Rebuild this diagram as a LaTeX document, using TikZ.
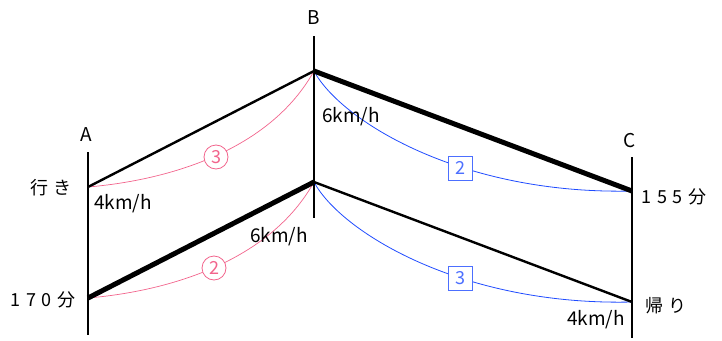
\documentclass[tikz,border=0pt]{standalone}
\usepackage{fontspec}
\setmainfont{Noto Sans CJK JP}
\newfontfamily\spacedfont[LetterSpace=30]{Noto Sans CJK JP}
\begin{document}
\begin{tikzpicture}[x=1pt,y=-1pt,
  lab/.style={font=\fontsize{19}{19}\selectfont, inner sep=0pt},
  slab/.style={font=\spacedfont\fontsize{18}{18}\selectfont, inner sep=0pt},
  axisline/.style={line width=2.6pt},
  thinleg/.style={line width=2.4pt},
  thickleg/.style={line width=5pt},
  pinkc/.style={draw=pk, line width=0.7pt},
  bluec/.style={draw=bl, line width=0.8pt},
  circlab/.style={circle, draw=pk, fill=white, text=pk, line width=0.8pt, minimum size=24pt, inner sep=0pt, font=\fontsize{18}{18}\selectfont},
  sqlab/.style={rectangle, draw=bl!80!white, fill=white, text=bl!80!white, line width=0.9pt, minimum size=24pt, inner sep=0pt, font=\fontsize{18}{18}\selectfont}
]
\definecolor{pk}{HTML}{F2648C}
\definecolor{bl}{HTML}{1F4BFF}
\useasboundingbox (0,0) rectangle (722,340);
% axes
\coordinate (Atop) at (88,152); \coordinate (Abot) at (88,335);
\coordinate (Btop) at (314,36); \coordinate (Bbot) at (314,218);
\coordinate (Ctop) at (632,157); \coordinate (Cbot) at (632,338);
\draw[axisline] (Atop) -- (Abot);
\draw[axisline] (Btop) -- (Bbot);
\draw[axisline] (Ctop) -- (Cbot);
% key points
\coordinate (A1) at (88,187); \coordinate (B1) at (314,71); \coordinate (C1) at (632,191);
\coordinate (A2) at (88,298); \coordinate (B2) at (314,182); \coordinate (C2) at (632,302);
% curves
\draw[pinkc] (A1) .. controls (170,180) and (270,150) .. (B1);
\draw[pinkc] (A2) .. controls (170,291) and (270,261) .. (B2);
\draw[bluec] (B1) .. controls (340,120) and (460,195) .. (C1);
\draw[bluec] (B2) .. controls (340,231) and (460,306) .. (C2);
% legs
\draw[thinleg] (A1) -- (B1);
\draw[thickleg] (B1) -- (C1);
\draw[thickleg] (A2) -- (B2);
\draw[thinleg] (B2) -- (C2);
% ratio labels
\node[circlab] (r1) at (216,157) {3};
\node[circlab] (r2) at (214,268) {2};
\node[sqlab] (r3) at (460,168) {2};
\node[sqlab] (r4) at (460,278) {3};
% text labels
\node[lab] (lA) at (86,135) {A};
\node[lab] (lB) at (314,18) {B};
\node[lab] (lC) at (630,141) {C};
\node[slab] (go) at (51,188) {行き};
\node[lab] (v1) at (123,204) {4km/h};
\node[lab] (v2) at (351,117) {6km/h};
\node[slab] (t1) at (674,197) {155分};
\node[slab] (t2) at (43,300) {170分};
\node[lab] (v3) at (279,237) {6km/h};
\node[lab] (v4) at (596,320) {4km/h};
\node[slab] (back) at (666,306) {帰り};
\end{tikzpicture}
\end{document}
